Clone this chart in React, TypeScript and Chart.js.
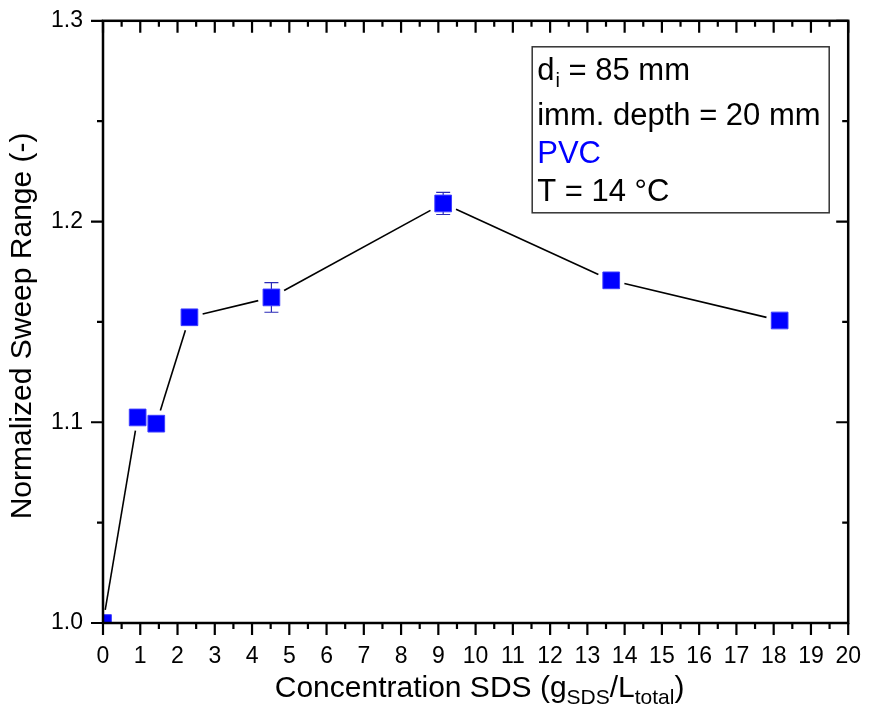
import React, { useEffect, useRef } from "react";
import { Chart, registerables } from "chart.js";

Chart.register(...registerables);

const xValues = [0, 0.93, 1.43, 2.32, 4.52, 9.13, 13.64, 18.16];
const yValues = [1.0, 1.1024, 1.0993, 1.1523, 1.1622, 1.2090, 1.1707, 1.1507];
const yErrors = [0, 0.0015, 0.0015, 0.0015, 0.0074, 0.0055, 0.0015, 0.0015];

const xTickValues = [0, 20, 1];
const yTickValues = [1.0, 1.3, 0.1];

const annotationLines = [
  { text: "d", sub: "i", rest: " = 85 mm", color: "#000000" },
  { text: "imm. depth = 20 mm", sub: "", rest: "", color: "#000000" },
  { text: "PVC", sub: "", rest: "", color: "#0000ff" },
  { text: "T = 14 °C", sub: "", rest: "", color: "#000000" },
];

const FONT = "'Liberation Sans', Arial, sans-serif";

const framePlugin = {
  id: "framePlugin",
  beforeDatasetsDraw(chart: any) {
    const ctx = chart.ctx;
    const area = chart.chartArea;
    const meta = chart.getDatasetMeta(0);
    const pts = meta.data;
    const yScale = chart.scales.y;
    ctx.save();
    ctx.beginPath();
    ctx.rect(area.left, area.top, area.right - area.left, area.bottom - area.top);
    ctx.clip();
    const h = 8.3;
    const gap = 5;
    ctx.strokeStyle = "#000000";
    ctx.lineWidth = 1.6;
    for (let i = 0; i < pts.length - 1; i++) {
      const p = pts[i];
      const q = pts[i + 1];
      const dx = q.x - p.x;
      const dy = q.y - p.y;
      const len = Math.hypot(dx, dy);
      const ux = dx / len;
      const uy = dy / len;
      const off = h / Math.max(Math.abs(ux), Math.abs(uy)) + gap;
      if (len <= 2 * off) continue;
      ctx.beginPath();
      ctx.moveTo(p.x + ux * off, p.y + uy * off);
      ctx.lineTo(q.x - ux * off, q.y - uy * off);
      ctx.stroke();
    }
    ctx.strokeStyle = "#2b2bb8";
    ctx.lineWidth = 1.2;
    for (let i = 0; i < pts.length; i++) {
      const e = yErrors[i];
      if (!e) continue;
      const x = pts[i].x;
      const y1 = yScale.getPixelForValue(yValues[i] + e);
      const y2 = yScale.getPixelForValue(yValues[i] - e);
      ctx.beginPath();
      ctx.moveTo(x, y1);
      ctx.lineTo(x, y2);
      ctx.moveTo(x - 7, y1);
      ctx.lineTo(x + 7, y1);
      ctx.moveTo(x - 7, y2);
      ctx.lineTo(x + 7, y2);
      ctx.stroke();
    }
    ctx.restore();
  },
  afterDraw(chart: any) {
    const ctx = chart.ctx;
    const area = chart.chartArea;
    const xs = chart.scales.x;
    const ys = chart.scales.y;
    ctx.save();
    ctx.strokeStyle = "#000000";
    ctx.lineWidth = 2.5;
    ctx.strokeRect(area.left, area.top, area.right - area.left, area.bottom - area.top);
    const major = 12;
    const minor = 6;
    ctx.lineWidth = 2.2;
    ctx.beginPath();
    const xt = xs.ticks.map((t: any) => t.value);
    xt.forEach((v: number, i: number) => {
      const px = xs.getPixelForValue(v);
      ctx.moveTo(px, area.bottom);
      ctx.lineTo(px, area.bottom + major);
      ctx.moveTo(px, area.top);
      ctx.lineTo(px, area.top + major);
      if (i < xt.length - 1) {
        const mx = xs.getPixelForValue((v + xt[i + 1]) / 2);
        ctx.moveTo(mx, area.bottom);
        ctx.lineTo(mx, area.bottom + minor);
        ctx.moveTo(mx, area.top);
        ctx.lineTo(mx, area.top + minor);
      }
    });
    const yt = ys.ticks.map((t: any) => t.value);
    yt.forEach((v: number, i: number) => {
      const py = ys.getPixelForValue(v);
      ctx.moveTo(area.left - major, py);
      ctx.lineTo(area.left, py);
      ctx.moveTo(area.right - major, py);
      ctx.lineTo(area.right, py);
      if (i < yt.length - 1) {
        const my = ys.getPixelForValue((v + yt[i + 1]) / 2);
        ctx.moveTo(area.left - minor, my);
        ctx.lineTo(area.left, my);
        ctx.moveTo(area.right - minor, my);
        ctx.lineTo(area.right, my);
      }
    });
    ctx.stroke();

    const tSize = 30;
    const sSize = 21;
    const parts = [
      { t: "Concentration SDS (g", s: tSize, dy: 0 },
      { t: "SDS", s: sSize, dy: 7 },
      { t: "/L", s: tSize, dy: 0 },
      { t: "total", s: sSize, dy: 7 },
      { t: ")", s: tSize, dy: 0 },
    ];
    let total = 0;
    parts.forEach((p) => {
      ctx.font = `${p.s}px ${FONT}`;
      total += ctx.measureText(p.t).width;
    });
    let cx = (area.left + area.right) / 2 - total / 2 + 4;
    const baseY = 689;
    ctx.fillStyle = "#000000";
    ctx.textBaseline = "alphabetic";
    ctx.textAlign = "left";
    parts.forEach((p) => {
      ctx.font = `${p.s}px ${FONT}`;
      ctx.fillText(p.t, cx, baseY + p.dy);
      cx += ctx.measureText(p.t).width;
    });

    ctx.save();
    ctx.translate(15, (area.top + area.bottom) / 2 + 4);
    ctx.rotate(-Math.PI / 2);
    ctx.font = `${tSize}px ${FONT}`;
    ctx.textAlign = "center";
    ctx.textBaseline = "middle";
    ctx.fillText("Normalized Sweep Range (-)", 0, 0);
    ctx.restore();

    const bx = area.right - 316;
    const by = area.top + 26;
    const bw = 297;
    const bh = 166;
    ctx.strokeStyle = "#333333";
    ctx.lineWidth = 1.5;
    ctx.strokeRect(bx, by, bw, bh);
    const baselines = [59, 104, 142, 180];
    const aSize = 31;
    annotationLines.forEach((ln, i) => {
      let x = bx + 5;
      const y = area.top + baselines[i];
      ctx.fillStyle = ln.color;
      ctx.font = `${aSize}px ${FONT}`;
      ctx.textAlign = "left";
      ctx.textBaseline = "alphabetic";
      ctx.fillText(ln.text, x, y);
      x += ctx.measureText(ln.text).width;
      if (ln.sub) {
        ctx.font = `${Math.round(aSize * 0.65)}px ${FONT}`;
        ctx.fillText(ln.sub, x + 1, y + 7);
        x += ctx.measureText(ln.sub).width + 1;
      }
      if (ln.rest) {
        ctx.font = `${aSize}px ${FONT}`;
        ctx.fillText(ln.rest, x, y);
      }
    });
    ctx.restore();
  },
};

export default function App() {
  const ref = useRef<HTMLCanvasElement | null>(null);
  useEffect(() => {
    if (!ref.current) return;
    const chart = new Chart(ref.current, {
      type: "scatter",
      data: {
        datasets: [
          {
            data: xValues.map((x, i) => ({ x, y: yValues[i] })),
            pointStyle: "rect",
            pointRadius: 11.8,
            pointHoverRadius: 11.8,
            backgroundColor: "#0000ff",
            borderColor: "#3c3cff",
            borderWidth: 1,
            showLine: false,
            clip: 0,
          } as any,
        ],
      },
      options: {
        animation: false,
        responsive: true,
        maintainAspectRatio: false,
        layout: { padding: { top: 10, right: 9, left: 0, bottom: 0 } },
        plugins: {
          legend: { display: false },
          tooltip: { enabled: false },
        },
        events: [],
        scales: {
          x: {
            type: "linear",
            min: xTickValues[0],
            max: xTickValues[1],
            grid: { display: false, drawTicks: false },
            border: { display: false },
            ticks: {
              stepSize: xTickValues[2],
              autoSkip: false,
              maxRotation: 0,
              padding: 20,
              color: "#000000",
              font: { family: FONT, size: 23 },
            },
            afterFit(scale: any) {
              scale.height = 94;
              scale.paddingLeft = 0;
              scale.paddingRight = 0;
            },
          },
          y: {
            type: "linear",
            min: yTickValues[0],
            max: yTickValues[1],
            grid: { display: false, drawTicks: false },
            border: { display: false },
            ticks: {
              stepSize: yTickValues[2],
              autoSkip: false,
              padding: 20,
              color: "#000000",
              font: { family: FONT, size: 23 },
              callback: (v: any) => Number(v).toFixed(1),
            },
            afterFit(scale: any) {
              scale.width = 95;
              scale.paddingTop = 0;
              scale.paddingBottom = 0;
            },
          },
        },
      } as any,
      plugins: [framePlugin],
    });
    return () => chart.destroy();
  }, []);
  return (
    <div style={{ width: 853, height: 709 }}>
      <canvas ref={ref} />
    </div>
  );
}
